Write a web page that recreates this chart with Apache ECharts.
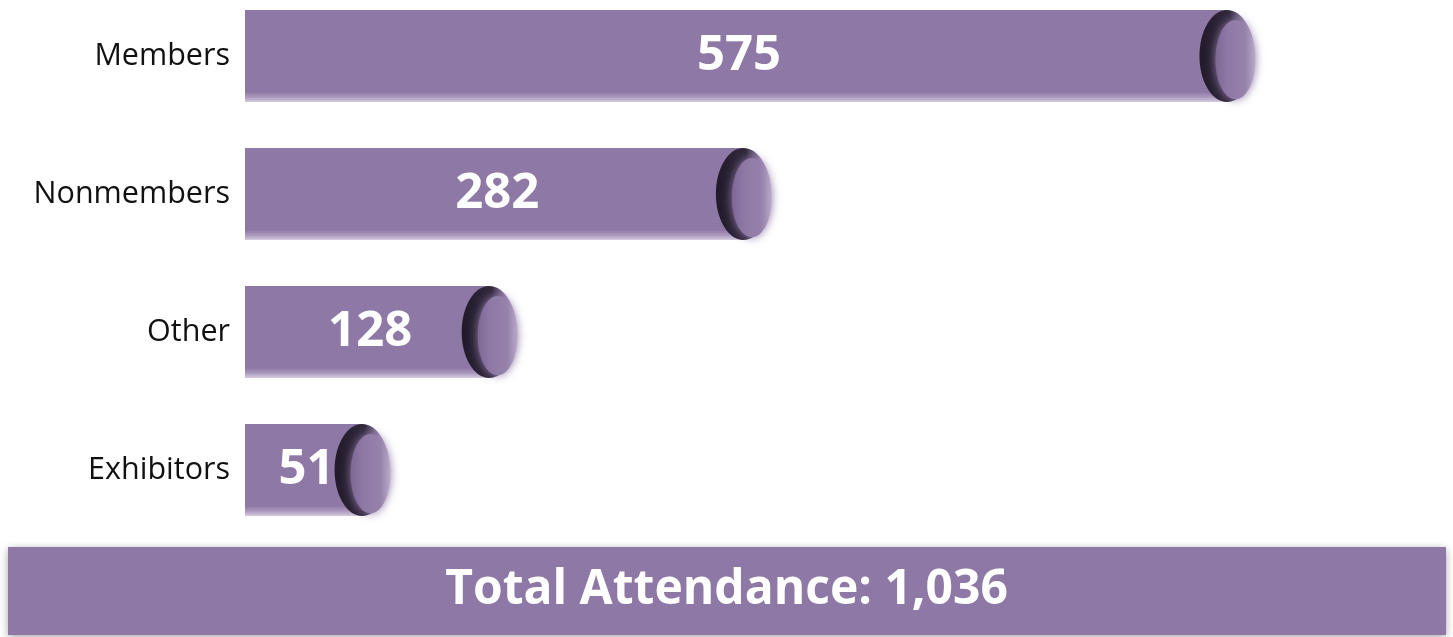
<!DOCTYPE html>
<html><head><meta charset="utf-8">
<script src="https://cdn.jsdelivr.net/npm/echarts@6/dist/echarts.min.js"></script>
<style>html,body{margin:0;padding:0;background:#fff;}#c{width:1453px;height:637px;}</style>
</head><body><div id="c"></div>
<script>
const categories = ['Members', 'Nonmembers', 'Other', 'Exhibitors'];
const values = [575, 282, 128, 51];
const totalLabel = 'Total Attendance: ';

const PURPLE = '#8e78a5';
const total = values.reduce((a, b) => a + b, 0);
const fmt = n => n.toString().replace(/\B(?=(\d{3})+(?!\d))/g, ',');
const XMIN = -20, XMAX = 704;

const chart = echarts.init(document.getElementById('c'), null, {renderer: 'canvas'});

function renderItem(params, api) {
  const v = api.value(1);
  const ci = api.value(0);
  const end = api.coord([v, ci]);
  const start = api.coord([XMIN, ci]);
  const band = api.size([0, 1])[1];
  const h = band * 0.667;
  const x0 = start[0], xe = end[0], cy = end[1];
  const top = cy - h / 2;
  const rx = h * 0.3, ry = h / 2;
  const w = xe - x0;
  return {
    type: 'group',
    children: [
      {
        type: 'rect',
        shape: {x: x0, y: top, width: w, height: h},
        style: {
          fill: new echarts.graphic.LinearGradient(0, 0, 0, 1, [
            {offset: 0, color: PURPLE},
            {offset: 0.89, color: PURPLE},
            {offset: 0.95, color: '#ad9cbf'},
            {offset: 1, color: '#d6cde0'}
          ])
        }
      },
      {
        type: 'ellipse',
        shape: {cx: xe, cy: cy, rx: rx, ry: ry},
        style: {
          fill: new echarts.graphic.LinearGradient(0, 0, 1, 0, [
            {offset: 0, color: '#221a2a'},
            {offset: 0.55, color: '#32283d'},
            {offset: 0.8, color: '#9c88b1'},
            {offset: 1, color: '#c7bbd4'}
          ])
        }
      },
      {
        type: 'ellipse',
        shape: {cx: xe + rx * 0.3, cy: cy + ry * 0.08, rx: rx * 0.72, ry: ry * 0.86},
        style: {
          fill: new echarts.graphic.LinearGradient(0, 0, 1, 0, [
            {offset: 0, color: '#7d6894'},
            {offset: 0.3, color: PURPLE},
            {offset: 0.75, color: '#9583ab'},
            {offset: 1, color: '#b8a9c8'}
          ]),
          shadowBlur: 10,
          shadowColor: 'rgba(142,120,165,1)',
          shadowOffsetX: 0
        }
      },
      {
        type: 'text',
        x: x0 + w / 2 + 3,
        y: cy,
        style: {
          text: String(v),
          fill: '#fff',
          font: 'bold 49px "Open Sans", "Noto Sans", sans-serif',
          align: 'center',
          verticalAlign: 'middle'
        }
      }
    ]
  };
}

chart.setOption({
  animation: false,
  grid: {left: 245, right: 13, top: -13, height: 552, containLabel: false, outerBoundsMode: 'none'},
  xAxis: {type: 'value', min: XMIN, max: XMAX, show: false},
  yAxis: {
    type: 'category', data: categories, inverse: true,
    axisLine: {show: false}, axisTick: {show: false}, splitLine: {show: false},
    axisLabel: {
      color: '#111', fontSize: 30.5, margin: 15,
      fontFamily: '"Open Sans", "Noto Sans", sans-serif'
    }
  },
  series: [{
    type: 'custom',
    renderItem: renderItem,
    encode: {x: 1, y: 0},
    data: values.map((v, i) => [i, v]),
    clip: false
  }],
  graphic: [
    {
      type: 'rect',
      left: 8, top: 547,
      shape: {width: 1438, height: 88},
      style: {
        fill: PURPLE,
        shadowBlur: 8, shadowColor: 'rgba(0,0,0,0.35)', shadowOffsetY: 2
      }
    },
    {
      type: 'text',
      left: 'center', top: 566,
      style: {
        text: totalLabel + fmt(total),
        fill: '#fff',
        font: 'bold 48px "Open Sans", "Noto Sans", sans-serif'
      }
    }
  ]
});
</script></body></html>
